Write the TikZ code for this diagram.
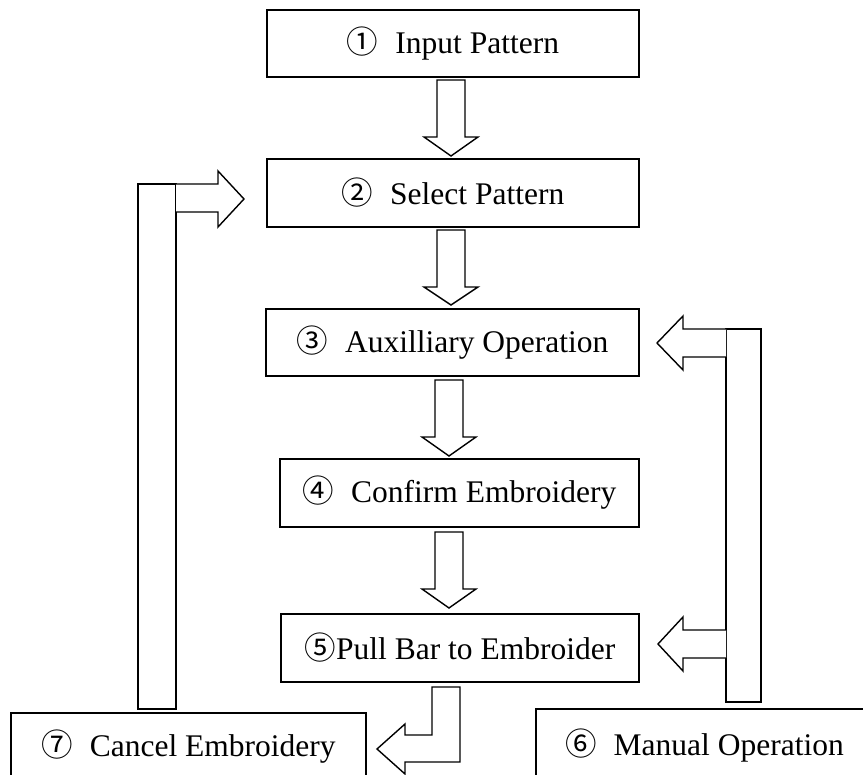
\documentclass[tikz,border=0pt]{standalone}
\usepackage{fontspec}
\setmainfont{Liberation Serif}
\newfontfamily\circfont{Noto Sans CJK SC}
\tikzset{
  box/.style={draw, line width=1.4pt, rectangle, inner sep=0pt, anchor=center,
    font=\fontsize{31.5}{36}\selectfont},
  blk/.style={draw, line width=1.4pt, fill=white, line join=miter},
}
\newcommand\cnum[1]{{\circfont #1}\hspace{17pt}}
\newcommand\blockdown[4]{\draw[blk] ({#1-14},#2) -- ({#1+14},#2) -- ({#1+14},#3) -- ({#1+27},#3) -- (#1,#4) -- ({#1-27},#3) -- ({#1-14},#3) -- cycle;}
\begin{document}
\begin{tikzpicture}[x=1pt,y=-1pt]
\useasboundingbox[clip] (0,0) rectangle (863,775);
\fill[white] (0,0) rectangle (863,775);
% boxes
\node[box, minimum width=372, minimum height=67] (b1) at (453,43.5) {\cnum{①}Input Pattern};
\node[box, minimum width=372, minimum height=68] (b2) at (453,193) {\cnum{②}Select Pattern};
\node[box, minimum width=373, minimum height=67] (b3) at (452.5,342.5) {\cnum{③}Auxilliary Operation};
\node[box, minimum width=359, minimum height=68] (b4) at (459.5,493) {\cnum{④}Confirm Embroidery};
\node[box, minimum width=358, minimum height=68] (b5) at (460,648) {{\circfont ⑤}Pull Bar to Embroider};
\node[box, minimum width=337, minimum height=74] (b6) at (704.5,746) {\cnum{⑥}Manual Operation};
\node[box, minimum width=355, minimum height=67] (b7) at (188.5,746.5) {\cnum{⑦}Cancel Embroidery};
% down arrows
\blockdown{451}{80}{137}{156}
\blockdown{451}{230}{287}{305}
\blockdown{449}{380}{437}{456}
\blockdown{449}{532}{589}{608}
% left bar and arrow to (2)
\draw[blk] (138,184) rectangle (176,709);
\draw[blk] (176,184) -- (218,184) -- (218,171) -- (244,199) -- (218,227) -- (218,212) -- (176,212);
% right bar and arrows to (3) and (5)
\draw[blk] (726,329) rectangle (761,702);
\draw[blk] (726,329) -- (683,329) -- (683,316) -- (657,343) -- (683,370) -- (683,357) -- (726,357);
\draw[blk] (726,630) -- (683,630) -- (683,617) -- (658,644) -- (683,671) -- (683,658) -- (726,658);
% bent arrow from (5) to (7)
\draw[blk] (432,687) -- (460,687) -- (460,762) -- (405,762) -- (405,774) -- (377,749) -- (405,724) -- (405,735) -- (432,735) -- cycle;
\end{tikzpicture}
\end{document}
